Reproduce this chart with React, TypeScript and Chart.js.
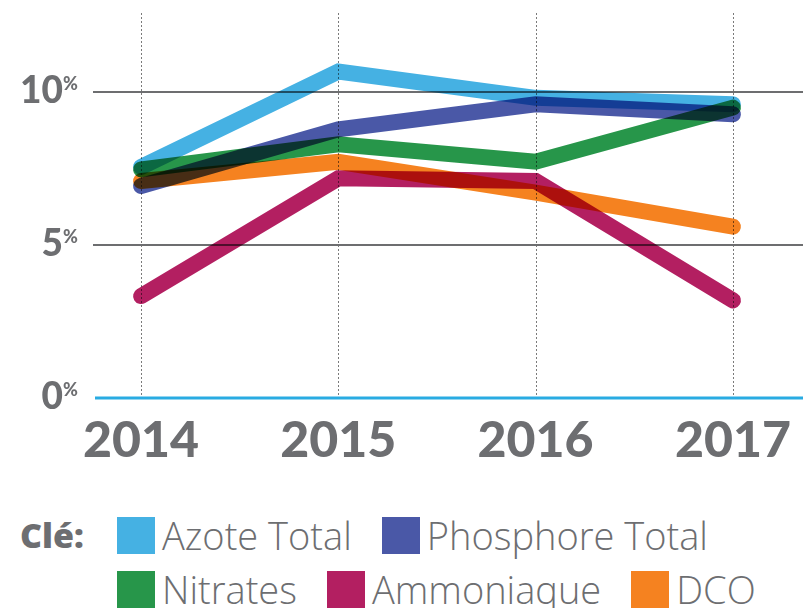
import React, { useEffect, useRef } from "react";
import { Chart, registerables } from "chart.js";

Chart.register(...registerables);

const years = [2014, 2015, 2016, 2017];
const azoteTotal = [7.55, 10.67, 9.81, 9.6];
const phosphoreTotal = [6.93, 8.78, 9.6, 9.27];
const nitrates = [7.47, 8.29, 7.72, 9.49];
const ammoniaque = [3.33, 7.18, 7.09, 3.19];
const dco = [7.09, 7.72, 6.71, 5.6];
const yTicks = [0, 5, 10];
const seriesNames = ["Azote Total", "Phosphore Total", "Nitrates", "Ammoniaque", "DCO"];
const seriesColors = ["#45B1E3", "#4A58A7", "#27964A", "#B31F61", "#F58220"];
const seriesValues = [azoteTotal, phosphoreTotal, nitrates, ammoniaque, dco];
const legendRow1 = [0, 1];
const legendRow2 = [2, 3, 4];

const W = 803;
const H = 480;
const TEXT = "#6D6E71";

const gridPlugin = {
  id: "customGrid",
  beforeDatasetsDraw(chart: any) {
    const { ctx, chartArea, scales } = chart;
    const x = scales.x;
    const y = scales.y;
    ctx.save();
    ctx.strokeStyle = "#7a7a7a";
    ctx.lineWidth = 1;
    ctx.setLineDash([2, 2]);
    years.forEach((yr) => {
      const px = Math.round(x.getPixelForValue(yr)) + 0.5;
      ctx.beginPath();
      ctx.moveTo(px, chartArea.top);
      ctx.lineTo(px, chartArea.bottom);
      ctx.stroke();
    });
    ctx.setLineDash([]);
    yTicks.forEach((v) => {
      const py = y.getPixelForValue(v);
      ctx.beginPath();
      if (v === 0) {
        ctx.strokeStyle = "#29ABE2";
        ctx.lineWidth = 3;
        ctx.moveTo(chartArea.left + 2, py);
      } else {
        ctx.strokeStyle = "#6D6E70";
        ctx.lineWidth = 2;
        ctx.moveTo(chartArea.left, py);
      }
      ctx.lineTo(chartArea.right, py);
      ctx.stroke();
    });
    ctx.restore();
    ctx.save();
    ctx.globalCompositeOperation = "multiply";
  },
  afterDatasetsDraw(chart: any) {
    chart.ctx.restore();
  },
  afterDraw(chart: any) {
    const { ctx, scales } = chart;
    const x = scales.x;
    const y = scales.y;
    ctx.save();
    ctx.fillStyle = TEXT;
    ctx.font = "900 50px Lato";
    ctx.textAlign = "center";
    ctx.textBaseline = "middle";
    years.forEach((yr) => {
      ctx.fillText(String(yr), x.getPixelForValue(yr), 441);
    });
    yTicks.forEach((v) => {
      const py = y.getPixelForValue(v);
      ctx.font = "900 37px Lato";
      ctx.textAlign = "right";
      ctx.textBaseline = "alphabetic";
      ctx.fillText(String(v), 63, py + 11);
      ctx.font = "900 18px Lato";
      ctx.textAlign = "left";
      ctx.textBaseline = "top";
      ctx.fillText("%", 63, py - 17);
    });
    ctx.restore();
  },
};

export default function App() {
  const ref = useRef<HTMLCanvasElement | null>(null);
  useEffect(() => {
    if (!ref.current) return;
    const chart = new Chart(ref.current, {
      type: "line",
      data: {
        datasets: seriesNames.map((name, i) => ({
          label: name,
          data: years.map((yr, j) => ({ x: yr, y: seriesValues[i][j] })),
          borderColor: seriesColors[i],
          backgroundColor: seriesColors[i],
          borderWidth: 16,
          borderCapStyle: "round",
          borderJoinStyle: "miter",
          pointRadius: 0,
          tension: 0,
          fill: false,
        })),
      },
      options: {
        animation: false,
        responsive: false,
        maintainAspectRatio: false,
        layout: { padding: { left: 93, right: 0, top: 13, bottom: H - 398 } },
        plugins: { legend: { display: false }, tooltip: { enabled: false } },
        scales: {
          x: { type: "linear", display: false, min: 2014 - 48 / 197, max: 2017 + 70 / 197 },
          y: { type: "linear", display: false, min: 0, max: (398 - 13) / 30.6 },
        },
      },
      plugins: [gridPlugin],
    } as any);
    return () => chart.destroy();
  }, []);

  const item = (i: number) => (
    <div key={i} style={{ display: "flex", alignItems: "center", marginRight: 30 }}>
      <div style={{ width: 38, height: 37, background: seriesColors[i], marginRight: 7 }} />
      <span style={{ fontSize: 38, color: TEXT, fontFamily: "'Open Sans'", fontWeight: 300, lineHeight: "37px" }}>
        {seriesNames[i]}
      </span>
    </div>
  );

  return (
    <div style={{ position: "absolute", left: 0, top: 0, width: W, height: 608, background: "#fff", overflow: "hidden" }}>
      <canvas ref={ref} width={W} height={H} style={{ display: "block", width: W, height: H }} />
      <div style={{ position: "absolute", left: 20, top: 516, height: 37, display: "flex", alignItems: "center", fontFamily: "'Open Sans'", fontWeight: 800, fontSize: 34, color: TEXT }}>
        Clé:
      </div>
      <div style={{ position: "absolute", left: 117, top: 517, display: "flex" }}>{legendRow1.map(item)}</div>
      <div style={{ position: "absolute", left: 117, top: 571, display: "flex" }}>{legendRow2.map(item)}</div>
    </div>
  );
}
